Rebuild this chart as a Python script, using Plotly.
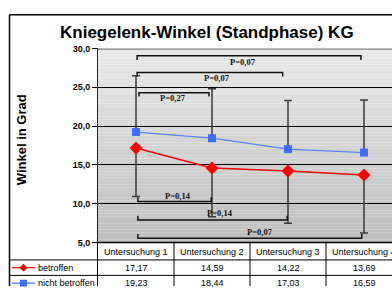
import plotly.graph_objects as go

# ---------------- data ----------------
categories = ["Untersuchung 1", "Untersuchung 2", "Untersuchung 3", "Untersuchung 4"]
betroffen = [17.17, 14.59, 14.22, 13.69]
nicht_betroffen = [19.23, 18.44, 17.03, 16.59]
betroffen_err_minus = [6.24, 6.27, 6.73, 7.45]
nicht_betroffen_err_plus = [7.25, 6.37, 6.25, 6.78]
series_names = ["betroffen", "nicht betroffen"]
y_ticks = [5, 10, 15, 20, 25, 30]
y_tick_labels = ["5,0", "10,0", "15,0", "20,0", "25,0", "30,0"]
# significance comparisons (from category index, to category index, label)
upper_comparisons = [(0, 3, "P=0,07"), (0, 2, "P=0,07"), (0, 1, "P=0,27")]
lower_comparisons = [(0, 1, "P=0,14"), (0, 2, "P=0,14"), (0, 3, "P=0,07")]

# ---------------- layout helpers ----------------
W, H = 392, 291
def px(x): return x / W
def py(y): return 1 - y / H

X0 = 98            # left edge of plot area (px)
Y_TOP, Y_BOT = 45, 246
CAT0, STEP = 136, 76
x_range = [(X0 - CAT0) / STEP, (W - CAT0) / STEP]
idx = list(range(len(categories)))

RED = "#ff0000"
BLUE = "#3d6cff"

fig = go.Figure()

fig.add_trace(go.Scatter(
    x=idx, y=nicht_betroffen, mode="lines+markers", name=series_names[1],
    line=dict(color="#5a82ff", width=1.2),
    marker=dict(symbol="square", size=8, color=BLUE),
    error_y=dict(type="data", symmetric=False, array=nicht_betroffen_err_plus,
                 arrayminus=[0] * 4, color="#3a3a3a", thickness=1.5, width=4),
    cliponaxis=False,
))
fig.add_trace(go.Scatter(
    x=idx, y=betroffen, mode="lines+markers", name=series_names[0],
    line=dict(color=RED, width=1.5),
    marker=dict(symbol="diamond", size=10, color=RED),
    error_y=dict(type="data", symmetric=False, array=[0] * 4,
                 arrayminus=betroffen_err_minus, color="#3a3a3a", thickness=1.5, width=4),
    cliponaxis=False,
))

shapes = []
annotations = []

def note(x, y, text, font, xref="paper", yref="paper", xanchor="center", **kw):
    annotations.append(dict(x=x, y=y, xref=xref, yref=yref, text=text, showarrow=False,
                            xanchor=xanchor, yanchor="middle", font=font, **kw))

# gradient background of plot area
n_bands = 60
for k in range(n_bands):
    t = k / (n_bands - 1)
    c = int(round(233 - (233 - 190) * t))
    y1 = 30 - 25 * k / n_bands
    y0 = 30 - 25 * (k + 1) / n_bands
    shapes.append(dict(type="rect", xref="paper", yref="y", x0=px(X0), x1=1,
                       y0=y0, y1=y1, fillcolor=f"rgb({c},{c},{c})",
                       line=dict(width=0), layer="below"))

# top border of plot area
shapes.append(dict(type="line", xref="paper", yref="y", x0=px(X0), x1=1, y0=30, y1=30,
                   line=dict(color="#808080", width=2.5)))

# outer frame
shapes.append(dict(type="line", xref="paper", yref="paper", x0=px(9.5), x1=1,
                   y0=py(10), y1=py(10), line=dict(color="black", width=1.5)))
shapes.append(dict(type="line", xref="paper", yref="paper", x0=px(9.5), x1=px(9.5),
                   y0=py(10), y1=0, line=dict(color="black", width=1.5)))

pfont = dict(family="Liberation Serif", size=8.5, color="#111")
# significance brackets
up_levels = [(29.05, 28.5), (26.9, 26.4), (24.3, 23.8)]
up_x = [(0.015, 2.96), (0.015, 1.93), (0.04, 0.96)]
up_lbl = [(1.41, 28.2), (1.07, 26.2), (0.49, 23.65)]
for (a, b, lab), (yl, yt), (xa, xb), (lx, ly) in zip(upper_comparisons, up_levels, up_x, up_lbl):
    shapes.append(dict(type="path", xref="x", yref="y",
                       path=f"M {a + xa},{yt} L {a + xa},{yl} L {xb},{yl} L {xb},{yt}",
                       line=dict(color="#111111", width=1.5)))
    note(lx, ly, f"<b>{lab}</b>", pfont, xref="x", yref="y")
lo_levels = [(10.3, 10.85), (7.9, 8.45), (5.55, 6.1)]
lo_x = [(0.025, 0.99), (0.025, 1.99), (0.025, 2.97)]
lo_lbl = [(0.55, 11.0), (1.1, 8.75), (1.63, 6.35)]
for (a, b, lab), (yl, yt), (xa, xb), (lx, ly) in zip(lower_comparisons, lo_levels, lo_x, lo_lbl):
    shapes.append(dict(type="path", xref="x", yref="y",
                       path=f"M {a + xa},{yt} L {a + xa},{yl} L {xb},{yl} L {xb},{yt}",
                       line=dict(color="#111111", width=1.5)))
    note(lx, ly, f"<b>{lab}</b>", pfont, xref="x", yref="y")

# data table
ROW_TOP, ROW1, ROW2 = 246, 264, 280
tbl_line = dict(color="black", width=1)
shapes.append(dict(type="line", xref="paper", yref="paper", x0=px(X0), x1=1,
                   y0=py(ROW_TOP), y1=py(ROW_TOP), line=dict(color="black", width=1.5)))
for yy in (ROW1, ROW2):
    shapes.append(dict(type="line", xref="paper", yref="paper", x0=px(9.5), x1=1,
                       y0=py(yy), y1=py(yy), line=tbl_line))
shapes.append(dict(type="line", xref="paper", yref="paper", x0=px(X0 - 0.5), x1=px(X0 - 0.5),
                   y0=py(ROW_TOP), y1=0, line=tbl_line))
for i in idx[:-1]:
    shapes.append(dict(type="line", xref="x", yref="paper", x0=i + 0.5, x1=i + 0.5,
                       y0=py(ROW_TOP), y1=0, line=tbl_line))

tfont = dict(family="Liberation Sans", size=9, color="black")
for i, cat in enumerate(categories):
    note(i, py(255.5), cat, tfont, xref="x")
    note(i, py(272), f"{betroffen[i]:.2f}".replace(".", ","), tfont, xref="x")
    note(i, py(288), f"{nicht_betroffen[i]:.2f}".replace(".", ","), tfont, xref="x")

# legend keys in table
for name, yy, col in ((series_names[0], 272, RED), (series_names[1], 288, BLUE)):
    shapes.append(dict(type="line", xref="paper", yref="paper", x0=px(12), x1=px(35),
                       y0=py(yy), y1=py(yy), line=dict(color=col, width=1.2)))
    note(px(36), py(yy), name, tfont, xanchor="left")
cx, cy = 23.5, 272
shapes.append(dict(type="path", xref="paper", yref="paper",
                   path=f"M {px(cx-4)},{py(cy)} L {px(cx)},{py(cy-4)} L {px(cx+4)},{py(cy)} L {px(cx)},{py(cy+4)} Z",
                   fillcolor=RED, line=dict(width=0)))
cy = 288
shapes.append(dict(type="rect", xref="paper", yref="paper", x0=px(cx-3.5), x1=px(cx+3.5),
                   y0=py(cy+3.5), y1=py(cy-3.5), fillcolor=BLUE, line=dict(width=0)))

# title & axis title
note(px(207), py(28), "<b>Kniegelenk-Winkel (Standphase) KG</b>",
     dict(family="Liberation Sans", size=17, color="black"))
note(px(21), py(140), "<b>Winkel in Grad</b>",
     dict(family="Liberation Sans", size=13, color="black"), textangle=-90)

fig.update_layout(
    width=W, height=H, autosize=False,
    margin=dict(l=0, r=0, t=0, b=0),
    paper_bgcolor="white", plot_bgcolor="rgba(0,0,0,0)",
    showlegend=False,
    xaxis=dict(domain=[px(X0), 1], range=x_range, visible=False),
    yaxis=dict(domain=[py(Y_BOT), py(Y_TOP)], range=[5, 30],
               tickvals=y_ticks, ticktext=[f"<b>{t}</b>" for t in y_tick_labels],
               tickfont=dict(family="Liberation Sans", size=9, color="black"),
               ticks="outside", ticklen=5, tickcolor="black", tickwidth=1,
               showline=True, linecolor="#222", linewidth=1,
               showgrid=True, gridcolor="black", gridwidth=1, zeroline=False),
    shapes=shapes, annotations=annotations,
)

fig.write_html("out.html", config={"displayModeBar": False},
               post_script="document.body.style.margin='0';")
